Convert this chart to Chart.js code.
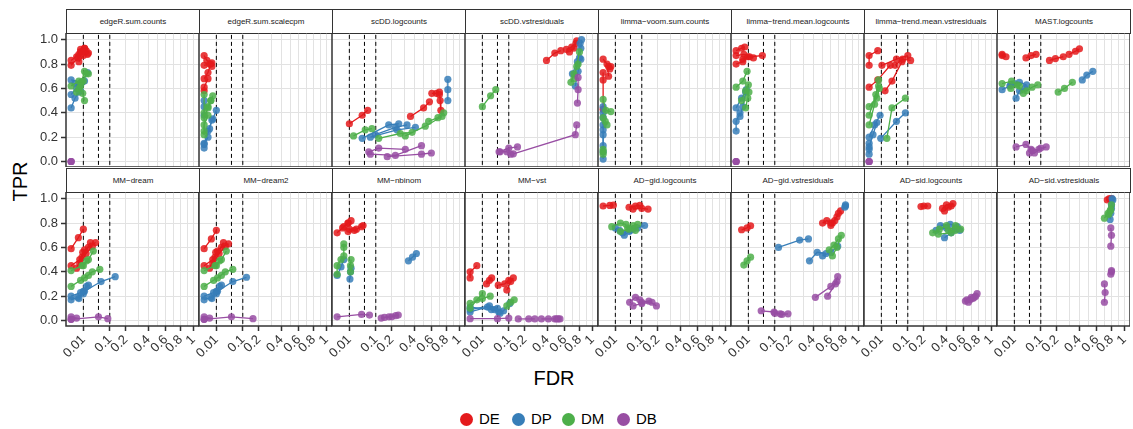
<!DOCTYPE html>
<html>
<head>
<meta charset="utf-8">
<script src="https://cdn.jsdelivr.net/npm/chart.js@4/dist/chart.umd.min.js"></script>
<style>
  body { margin: 0; background: #fff; width: 1133px; height: 429px; position: relative; overflow: hidden;
         font-family: "Liberation Sans", Arial, sans-serif; }
  .strip { position: absolute; box-sizing: border-box; border: 1.5px solid #333; background: #fff;
           font-size: 8px; color: #1a1a1a; display: flex; align-items: center; justify-content: center; }
  .panel { position: absolute; }
  .panel canvas { display: block; }
  .title { position: absolute; font-size: 20px; color: #000; }
  .lg-dot { position: absolute; width: 13px; height: 13px; border-radius: 50%; }
  .lg-txt { position: absolute; font-size: 15px; color: #000; }
</style>
</head>
<body>
<div class="title" style="left:0;top:170px;width:40px;text-align:center;transform:rotate(-90deg);">TPR</div>
<div class="title" style="left:514px;top:367px;width:80px;text-align:center;">FDR</div>
<div id="legend"></div>

<script>
// facet names, in plotting order (2 rows x 8 columns)
const panelNames = [
  'edgeR.sum.counts', 'edgeR.sum.scalecpm', 'scDD.logcounts', 'scDD.vstresiduals',
  'limma\u2212voom.sum.counts', 'limma\u2212trend.mean.logcounts', 'limma\u2212trend.mean.vstresiduals', 'MAST.logcounts',
  'MM\u2212dream', 'MM\u2212dream2', 'MM\u2212nbinom', 'MM\u2212vst',
  'AD\u2212gid.logcounts', 'AD\u2212gid.vstresiduals', 'AD\u2212sid.logcounts', 'AD\u2212sid.vstresiduals'
];
const groups = ['DE', 'DP', 'DM', 'DB'];
const groupColors = ['#E41A1C', '#377EB8', '#4DAF4A', '#984EA3'];
const fdrCutoffs = [0.01, 0.05, 0.1];
const xTicks = [0.01, 0.1, 0.2, 0.4, 0.6, 0.8, 1];
const xMinor = [0.3, 0.5, 0.7, 0.9];
const yTicks = [0, 0.2, 0.4, 0.6, 0.8, 1];

// each curve = [FDR, TPR] at the three cutoffs
const edgeRSumCounts = {
  DE: [[[0,0.79],[0.003,0.85],[0.008,0.90]],[[0,0.83],[0.004,0.88],[0.012,0.93]],[[0.002,0.86],[0.006,0.92],[0.015,0.91]],[[0.004,0.82],[0.01,0.87],[0.02,0.89]],[[0.006,0.90],[0.012,0.93],[0.018,0.88]]],
  DP: [[[0,0.44],[0.001,0.52],[0.004,0.57]],[[0,0.55],[0.002,0.60],[0.006,0.58]],[[0.001,0.64],[0.005,0.62],[0.012,0.66]],[[0,0.67],[0.008,0.65],[0.018,0.73]]],
  DM: [[[0.002,0.57],[0.006,0.62],[0.012,0.50]],[[0.004,0.60],[0.01,0.66],[0.015,0.72]],[[0.007,0.65],[0.012,0.74],[0.02,0.72]],[[0,0.62],[0.004,0.66],[0.009,0.56]]],
  DB: [[[0,0],[0,0],[0,0]]]
};
const edgeRSumScalecpm = {
  DE: [[[0,0.87],[0.0005,0.83],[0.004,0.81]],[[0,0.79],[0.002,0.80],[0.004,0.78]],[[0,0.68],[0.001,0.73],[0.003,0.80]],[[0,0.58],[0,0.61],[0.001,0.68]]],
  DP: [[[0,0.11],[0,0.14],[0.001,0.20]],[[0,0.15],[0.002,0.27],[0.004,0.34]],[[0.001,0.25],[0.005,0.35],[0.01,0.42]],[[0,0.38],[0,0.45],[0,0.50]]],
  DM: [[[0,0.22],[0,0.30],[0.001,0.38]],[[0,0.36],[0.001,0.44],[0.003,0.50]],[[0.001,0.45],[0.003,0.50],[0.005,0.54]],[[0,0.25],[0,0.40],[0,0.55]]],
  DB: []
};
const scddLogcounts = {
  DE: [[[0.01,0.31],[0.042,0.38],[0.0625,0.42]],[[0.36,0.37],[0.50,0.44],[0.57,0.49]],[[0.6,0.56],[0.66,0.56],[0.7,0.55]],[[0.7,0.57],[0.71,0.50],[0.72,0.42]]],
  DP: [[[0.042,0.19],[0.178,0.30],[0.254,0.31]],[[0.098,0.22],[0.227,0.28],[0.327,0.30]],[[0.074,0.20],[0.24,0.26],[0.41,0.28]],[[0.82,0.50],[0.82,0.59],[0.82,0.675]]],
  DM: [[[0.018,0.21],[0.053,0.26],[0.081,0.27]],[[0.116,0.19],[0.267,0.23],[0.376,0.24]],[[0.311,0.21],[0.52,0.29],[0.736,0.37]],[[0.56,0.33],[0.68,0.36],[0.76,0.40]]],
  DB: [[[0.067,0.08],[0.116,0.11],[0.311,0.10]],[[0.074,0.06],[0.227,0.05],[0.476,0.13]],[[0.168,0.04],[0.476,0.06],[0.594,0.07]]]
};
const scddVstresiduals = {
  DE: [[[0.39,0.83],[0.48,0.89],[0.55,0.91]],[[0.62,0.92],[0.69,0.94],[0.75,0.97]],[[0.66,0.90],[0.72,0.93],[0.76,0.99]]],
  DP: [[[0.74,0.62],[0.78,0.74],[0.82,0.84]],[[0.70,0.72],[0.77,0.82],[0.81,0.97]],[[0.80,0.85],[0.82,0.93],[0.83,1.0]]],
  DM: [[[0.01,0.45],[0.028,0.54],[0.044,0.59]],[[0.68,0.65],[0.72,0.72],[0.78,0.80]],[[0.72,0.68],[0.76,0.78],[0.80,0.90]]],
  DB: [[[0.056,0.08],[0.10,0.11],[0.15,0.12]],[[0.06,0.08],[0.09,0.08],[0.11,0.06]],[[0.125,0.063],[0.74,0.22],[0.76,0.30]],[[0.77,0.48],[0.78,0.59],[0.78,0.69]]]
};
const limmaVoomSumCounts = {
  DE: [[[0,0.84],[0.001,0.80],[0.002,0.70]],[[0.002,0.78],[0.003,0.76],[0.004,0.78]],[[0,0.73],[0,0.67],[0,0.43]]],
  DP: [[[0,0.40],[0,0.26],[0,0.13]],[[0,0.22],[0,0.08],[0,0.02]],[[0,0.45],[0,0.36],[0,0.30]]],
  DM: [[[0,0.51],[0.0005,0.42],[0.004,0.41]],[[0,0.36],[0.0003,0.33],[0.001,0.30]],[[0,0.10],[0,0.08],[0,0.06]]],
  DB: []
};
const limmaTrendMeanLogcounts = {
  DE: [[[0,0.91],[0.002,0.93],[0.005,0.94]],[[0,0.87],[0.004,0.88],[0.02,0.85]],[[0.003,0.84],[0.012,0.86],[0.046,0.87]],[[0,0.80],[0.003,0.82],[0.009,0.86]]],
  DP: [[[0,0.25],[0,0.33],[0.001,0.40]],[[0,0.44],[0.002,0.52],[0.006,0.57]],[[0.001,0.37],[0.003,0.45],[0.007,0.59]]],
  DM: [[[0,0.61],[0.003,0.66],[0.008,0.74]],[[0.002,0.50],[0.006,0.58],[0.01,0.63]],[[0.006,0.44],[0.009,0.52],[0.011,0.57]]],
  DB: [[[0,0],[0,0],[0,0]]]
};
const limmaTrendMeanVstresiduals = {
  DE: [[[0,0.79],[0,0.87],[0.005,0.91]],[[0.011,0.79],[0.05,0.84],[0.10,0.87]],[[0,0.61],[0.005,0.67],[0.03,0.79]],[[0.017,0.58],[0.035,0.66],[0.072,0.82]],[[0.045,0.79],[0.075,0.84],[0.115,0.83]]],
  DP: [[[0,0.20],[0.002,0.30],[0.008,0.38]],[[0,0.12],[0.001,0.22],[0.004,0.32]],[[0.009,0.19],[0.05,0.33],[0.088,0.40]],[[0,0.06],[0,0.10],[0,0.15]]],
  DM: [[[0,0.30],[0.002,0.47],[0.006,0.67]],[[0,0.38],[0.003,0.55],[0.006,0.62]],[[0,0.45],[0.004,0.52],[0.007,0.60]],[[0.021,0.19],[0.035,0.44],[0.088,0.52]]],
  DB: [[[0,0],[0,0],[0,0]]]
};
const mastLogcounts = {
  DE: [[[0,0.88],[0,0.87],[0.001,0.86]],[[0.038,0.85],[0.056,0.87],[0.077,0.88]],[[0.15,0.83],[0.19,0.845],[0.25,0.86]],[[0.30,0.88],[0.36,0.905],[0.40,0.925]]],
  DP: [[[0,0.59],[0.004,0.62],[0.01,0.64]],[[0.013,0.52],[0.02,0.58],[0.035,0.60]],[[0.005,0.63],[0.02,0.65],[0.04,0.63]],[[0.43,0.67],[0.48,0.71],[0.55,0.74]]],
  DM: [[[0,0.64],[0.006,0.66],[0.02,0.62]],[[0.005,0.60],[0.015,0.63],[0.03,0.56]],[[0.04,0.58],[0.06,0.61],[0.085,0.63]],[[0.21,0.57],[0.26,0.60],[0.33,0.65]]],
  DB: [[[0.013,0.12],[0.038,0.14],[0.056,0.10]],[[0.05,0.07],[0.07,0.07],[0.10,0.11]],[[0.06,0.09],[0.09,0.10],[0.13,0.12]]]
};
const mmDream = {
  DE: [[[0,0.59],[0.0035,0.68],[0.01,0.75]],[[0,0.45],[0.005,0.50],[0.012,0.58]],[[0.002,0.43],[0.008,0.52],[0.025,0.64]],[[0.005,0.47],[0.015,0.55],[0.03,0.61]],[[0.009,0.56],[0.02,0.60],[0.04,0.64]]],
  DP: [[[0,0.17],[0.003,0.19],[0.01,0.22]],[[0,0.20],[0.006,0.23],[0.016,0.28]],[[0.004,0.18],[0.01,0.24],[0.02,0.29]],[[0.012,0.24],[0.06,0.32],[0.13,0.36]]],
  DM: [[[0,0.28],[0.006,0.33],[0.02,0.37]],[[0,0.41],[0.008,0.45],[0.016,0.49]],[[0.012,0.35],[0.03,0.40],[0.055,0.42]],[[0.01,0.45],[0.02,0.50],[0.033,0.57]]],
  DB: [[[0,0.01],[0.05,0.03],[0.09,0.015]],[[0,0.03],[0.002,0.02],[0,0.01]]]
};
const mmDream2 = {
  DE: [[[0,0.59],[0.0035,0.67],[0.01,0.74]],[[0,0.45],[0.005,0.50],[0.012,0.57]],[[0.002,0.43],[0.008,0.52],[0.025,0.64]],[[0.005,0.47],[0.015,0.55],[0.03,0.61]],[[0.009,0.56],[0.02,0.60],[0.04,0.63]]],
  DP: [[[0,0.17],[0.003,0.19],[0.01,0.22]],[[0,0.20],[0.006,0.23],[0.016,0.28]],[[0.004,0.18],[0.01,0.24],[0.02,0.29]],[[0.012,0.24],[0.055,0.32],[0.12,0.355]]],
  DM: [[[0,0.28],[0.006,0.33],[0.02,0.37]],[[0,0.41],[0.008,0.45],[0.016,0.49]],[[0.012,0.35],[0.03,0.40],[0.055,0.42]],[[0.01,0.45],[0.02,0.50],[0.033,0.57]]],
  DB: [[[0,0.01],[0.05,0.03],[0.16,0.015]],[[0,0.03],[0.002,0.02],[0,0.01]]]
};
const mmNbinom = {
  DE: [[[0,0.72],[0.003,0.77],[0.008,0.80]],[[0.002,0.76],[0.008,0.80],[0.013,0.82]],[[0.008,0.73],[0.02,0.74],[0.04,0.77]],[[0.01,0.75],[0.025,0.75],[0.045,0.78]]],
  DP: [[[0,0.37],[0.001,0.44],[0.003,0.50]],[[0.011,0.34],[0.012,0.40],[0.013,0.43]],[[0.34,0.49],[0.38,0.52],[0.42,0.55]]],
  DM: [[[0.003,0.53],[0.003,0.60],[0.003,0.63]],[[0,0.38],[0,0.45],[0.001,0.50]],[[0.012,0.40],[0.012,0.45],[0.013,0.50]]],
  DB: [[[0,0.03],[0.04,0.05],[0.07,0.045]],[[0.13,0.02],[0.18,0.03],[0.25,0.045]],[[0.15,0.025],[0.20,0.03],[0.23,0.04]]]
};
const mmVst = {
  DE: [[[0,0.35],[0,0.40],[0.003,0.45]],[[0.018,0.30],[0.025,0.33],[0.031,0.35]],[[0.053,0.29],[0.08,0.30],[0.10,0.33]],[[0.09,0.25],[0.11,0.32],[0.125,0.35]]],
  DP: [[[0,0.07],[0.02,0.11],[0.04,0.09]],[[0,0.11],[0.03,0.09],[0.055,0.07]],[[0.06,0.06],[0.075,0.08],[0.105,0.14]],[[0,0.09],[0.025,0.12],[0.05,0.10]]],
  DM: [[[0,0.10],[0.003,0.17],[0.01,0.22]],[[0,0.14],[0.01,0.18],[0.027,0.20]],[[0.09,0.12],[0.11,0.15],[0.13,0.17]]],
  DB: [[[0,0.015],[0.05,0.015],[0.10,0.02]],[[0.155,0.013],[0.23,0.013],[0.28,0.013]],[[0.34,0.013],[0.41,0.013],[0.48,0.013]],[[0.5,0.013],[0.52,0.013],[0.54,0.013]]]
};
const adGidLogcounts = {
  DE: [[[0,0.94],[0.003,0.945],[0.007,0.947]],[[0.045,0.93],[0.07,0.94],[0.09,0.945]],[[0.06,0.915],[0.10,0.92],[0.135,0.915]]],
  DP: [[[0.018,0.74],[0.03,0.70],[0.045,0.73]],[[0.05,0.74],[0.08,0.76],[0.115,0.78]],[[0.01,0.76],[0.025,0.72],[0.06,0.75]]],
  DM: [[[0.005,0.77],[0.02,0.80],[0.035,0.79]],[[0.04,0.76],[0.06,0.78],[0.08,0.79]],[[0.02,0.73],[0.045,0.75],[0.07,0.74]]],
  DB: [[[0.047,0.15],[0.07,0.19],[0.09,0.17]],[[0.10,0.15],[0.14,0.16],[0.19,0.12]],[[0.06,0.12],[0.10,0.14],[0.16,0.15]]]
};
const adGidVstresiduals = {
  DE: [[[0.002,0.745],[0.008,0.76],[0.014,0.778]],[[0.50,0.80],[0.55,0.82],[0.60,0.80]],[[0.60,0.78],[0.65,0.82],[0.70,0.88]],[[0.62,0.80],[0.68,0.85],[0.73,0.90]]],
  DP: [[[0.12,0.60],[0.27,0.66],[0.35,0.67]],[[0.36,0.49],[0.44,0.56],[0.54,0.55]],[[0.50,0.53],[0.60,0.56],[0.69,0.61]],[[0.79,0.93],[0.80,0.94],[0.80,0.95]]],
  DM: [[[0.004,0.455],[0.008,0.49],[0.014,0.52]],[[0.58,0.58],[0.64,0.62],[0.70,0.67]],[[0.62,0.53],[0.68,0.60],[0.74,0.70]]],
  DB: [[[0.042,0.08],[0.096,0.07],[0.13,0.055]],[[0.10,0.06],[0.14,0.05],[0.18,0.055]],[[0.42,0.19],[0.60,0.28],[0.68,0.32]],[[0.56,0.20],[0.66,0.30],[0.69,0.36]]]
};
const adSidLogcounts = {
  DE: [[[0.18,0.935],[0.20,0.94],[0.23,0.94]],[[0.36,0.92],[0.40,0.95],[0.45,0.94]],[[0.38,0.90],[0.42,0.93],[0.47,0.96]]],
  DP: [[[0.30,0.74],[0.40,0.76],[0.50,0.75]],[[0.38,0.68],[0.45,0.72],[0.55,0.74]],[[0.34,0.78],[0.44,0.79],[0.52,0.77]]],
  DM: [[[0.27,0.72],[0.33,0.75],[0.40,0.78]],[[0.42,0.74],[0.50,0.78],[0.56,0.75]],[[0.32,0.71],[0.45,0.72],[0.50,0.74]]],
  DB: [[[0.62,0.16],[0.68,0.17],[0.74,0.19]],[[0.66,0.15],[0.72,0.18],[0.78,0.22]],[[0.64,0.17],[0.70,0.19],[0.76,0.20]]]
};
const adSidVstresiduals = {
  DE: [[[0.74,0.99],[0.77,1.0],[0.80,1.0]]],
  DP: [[[0.78,0.83],[0.80,0.92],[0.81,1.0]],[[0.79,0.88],[0.80,0.95],[0.82,0.99]]],
  DM: [[[0.70,0.84],[0.75,0.88],[0.79,0.91]],[[0.76,0.87],[0.78,0.90],[0.80,0.95]]],
  DB: [[[0.79,0.61],[0.80,0.70],[0.79,0.76]],[[0.79,0.38],[0.80,0.40],[0.80,0.41]],[[0.70,0.15],[0.71,0.23],[0.70,0.30]]]
};

const panelData = [
  edgeRSumCounts, edgeRSumScalecpm, scddLogcounts, scddVstresiduals,
  limmaVoomSumCounts, limmaTrendMeanLogcounts, limmaTrendMeanVstresiduals, mastLogcounts,
  mmDream, mmDream2, mmNbinom, mmVst,
  adGidLogcounts, adGidVstresiduals, adSidLogcounts, adSidVstresiduals
];

// square-root x axis (like scale_x_sqrt)
const ssqrt = v => Math.sign(v) * Math.sqrt(Math.abs(v));
class SqrtScale extends Chart.LinearScale {
  getPixelForValue(v) {
    const a = ssqrt(this.min), b = ssqrt(this.max);
    return this.getPixelForDecimal((ssqrt(v) - a) / (b - a));
  }
  getValueForPixel(p) {
    const a = ssqrt(this.min), b = ssqrt(this.max);
    const s = a + this.getDecimalForPixel(p) * (b - a);
    return Math.sign(s) * s * s;
  }
}
SqrtScale.id = 'sqrt';
SqrtScale.defaults = {};
Chart.register(SqrtScale);

Chart.defaults.font.family = '"Liberation Sans", Arial, sans-serif';

const panelBorder = {
  id: 'panelBorder',
  afterDraw(chart) {
    const a = chart.chartArea, ctx = chart.ctx;
    ctx.save();
    ctx.strokeStyle = '#333';
    ctx.lineWidth = 1.5;
    ctx.strokeRect(a.left, a.top, a.right - a.left, a.bottom - a.top);
    ctx.restore();
  }
};

const COL0 = 66, COLW = 133, ROW0 = 9, ROWH = 159, STRIPH = 24, PANH = 134;
const YAXW = 66, XAXH = 50, LBLPAD = 24;
const xGrid = xTicks.concat(xMinor).sort((a, b) => a - b);

function alpha(hex, a) {
  const n = parseInt(hex.slice(1), 16);
  return `rgba(${n >> 16},${(n >> 8) & 255},${n & 255},${a})`;
}

panelNames.forEach((name, i) => {
  const col = i % 8, row = Math.floor(i / 8);
  const left = col === 0, bottom = row === 1;
  const px = COL0 + col * COLW, py = ROW0 + row * ROWH;
  // room to the left of the panel: y labels, or overflow of rotated x labels
  const padL = left ? YAXW : (bottom ? LBLPAD : 0);

  const strip = document.createElement('div');
  strip.className = 'strip';
  strip.style.left = px + 'px';
  strip.style.top = py + 'px';
  strip.style.width = (COLW + 1) + 'px';
  strip.style.height = (STRIPH + 1) + 'px';
  strip.textContent = name;
  document.body.appendChild(strip);

  const wrap = document.createElement('div');
  wrap.className = 'panel';
  const w = COLW + padL, h = PANH + (bottom ? XAXH : 0);
  wrap.style.left = (px - padL) + 'px';
  wrap.style.top = (py + STRIPH) + 'px';
  const canvas = document.createElement('canvas');
  canvas.width = w; canvas.height = h;
  canvas.style.width = w + 'px'; canvas.style.height = h + 'px';
  wrap.appendChild(canvas);
  document.body.appendChild(wrap);

  const datasets = [];
  const d = panelData[i];
  groups.forEach((g, gi) => {
    (d[g] || []).forEach(curve => {
      datasets.push({
        data: curve.map(([x, y]) => ({ x, y })),
        showLine: true,
        borderColor: groupColors[gi],
        borderWidth: 1.3,
        pointRadius: 3.6,
        pointHoverRadius: 3.6,
        pointBorderWidth: 0,
        pointBackgroundColor: alpha(groupColors[gi], 0.85),
        order: 4 - gi
      });
    });
  });
  fdrCutoffs.forEach(c => {
    datasets.push({
      data: [{ x: c, y: -0.2 }, { x: c, y: 1.3 }],
      showLine: true, pointRadius: 0, pointHoverRadius: 0, borderColor: '#000', borderWidth: 1,
      borderDash: [4, 3], order: 10
    });
  });

  new Chart(canvas, {
    type: 'scatter',
    data: { datasets },
    options: {
      responsive: false, animation: false, events: [],
      layout: { padding: 0, autoPadding: false },
      plugins: { legend: { display: false }, tooltip: { enabled: false } },
      scales: {
        x: {
          type: 'sqrt', min: -0.00176, max: 1.094,
          afterBuildTicks: s => { s.ticks = xGrid.map(v => ({ value: v })); },
          afterFit: s => {
            s.height = bottom ? XAXH : 0;
            s.paddingLeft = 0; s.paddingRight = 0;
          },
          border: { display: false },
          grid: {
            color: '#e2e2e2', lineWidth: 1, drawTicks: bottom, tickLength: 5, tickWidth: 1.5,
            tickColor: c => xTicks.includes(c.tick.value) ? '#333' : 'rgba(0,0,0,0)'
          },
          ticks: {
            display: bottom, autoSkip: false, minRotation: 45, maxRotation: 45, padding: 1,
            color: '#333', font: { size: 13 },
            callback: v => xTicks.includes(v) ? String(v) : ''
          }
        },
        y: {
          type: 'linear', min: -0.045, max: 1.055,
          afterBuildTicks: s => { s.ticks = yTicks.map(v => ({ value: v })); },
          afterFit: s => {
            s.width = padL;
            s.paddingTop = 0; s.paddingBottom = 0;
          },
          border: { display: false },
          grid: { color: '#e2e2e2', lineWidth: 1, drawTicks: left, tickLength: 5, tickWidth: 1.5, tickColor: '#333' },
          ticks: {
            display: left, padding: 3, color: '#333', font: { size: 13 },
            callback: v => v.toFixed(1)
          }
        }
      }
    },
    plugins: [panelBorder]
  });
});

// legend
const legendX = [466, 518, 568, 623];
const legend = document.getElementById('legend');
groups.forEach((g, gi) => {
  const dot = document.createElement('div');
  dot.className = 'lg-dot';
  dot.style.left = (legendX[gi] - 6.5) + 'px';
  dot.style.top = '412.5px';
  dot.style.background = groupColors[gi];
  legend.appendChild(dot);
  const t = document.createElement('div');
  t.className = 'lg-txt';
  t.style.left = (legendX[gi] + 13) + 'px';
  t.style.top = '410px';
  t.textContent = g;
  legend.appendChild(t);
});
</script>
</body>
</html>
